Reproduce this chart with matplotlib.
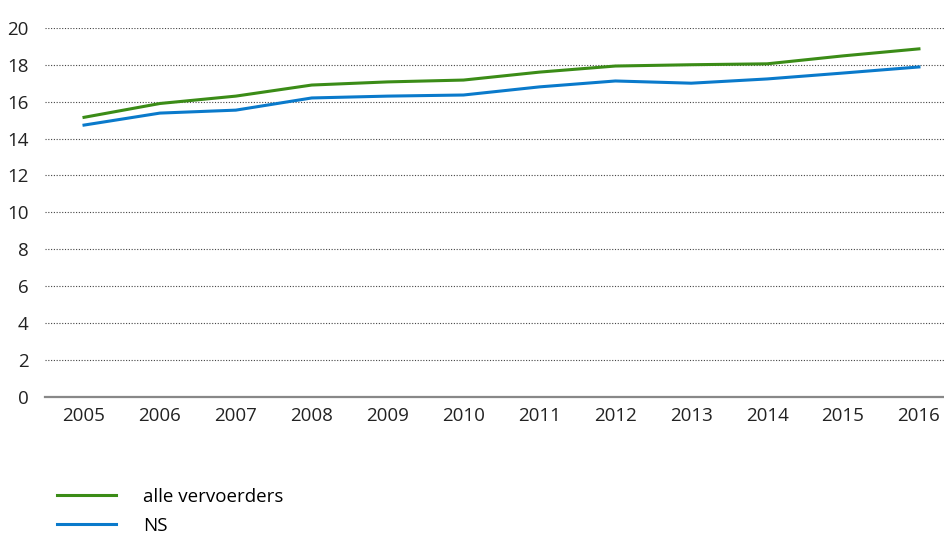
import matplotlib
matplotlib.use("Agg")
import matplotlib.pyplot as plt

plt.rcParams['font.family'] = ['Open Sans', 'DejaVu Sans']

years = [2005, 2006, 2007, 2008, 2009, 2010, 2011, 2012, 2013, 2014, 2015, 2016]
alle_vervoerders = [15.15, 15.9, 16.3, 16.9, 17.07, 17.17, 17.6, 17.93, 18.0, 18.05, 18.48, 18.86]
ns = [14.73, 15.38, 15.54, 16.2, 16.3, 16.36, 16.8, 17.12, 17.0, 17.23, 17.55, 17.88]
yticks = [0, 2, 4, 6, 8, 10, 12, 14, 16, 18, 20]

fig = plt.figure(figsize=(9.44, 5.35), dpi=100)
ax = fig.add_axes([0.048, 0.258, 0.952, 0.69])

ax.plot(years, alle_vervoerders, color='#3b8c17', lw=2.2, label='alle vervoerders')
ax.plot(years, ns, color='#0a7acb', lw=2.2, label='NS')

ax.set_xlim(2004.49, 2016.33)
ax.set_ylim(0, 20)
ax.set_yticks(yticks)
ax.set_xticks(years)
ax.tick_params(length=0, labelsize=13.5, colors='#222222')
ax.tick_params(axis='y', pad=12)
ax.tick_params(axis='x', pad=7)

for s in ['top', 'right', 'left']:
    ax.spines[s].set_visible(False)
ax.spines['bottom'].set_color('#888888')
ax.spines['bottom'].set_linewidth(1.6)

ax.grid(axis='y', linestyle=(0, (1, 1.5)), color='#444444', lw=0.8)
ax.set_axisbelow(True)

# legend sits low, under the plot
leg = fig.legend(loc='upper left', bbox_to_anchor=(0.0424, 0.12), frameon=False,
                 fontsize=13.5, handlelength=3.15, handletextpad=1.45, labelspacing=0.58)

fig.savefig('out.png', dpi=100)
